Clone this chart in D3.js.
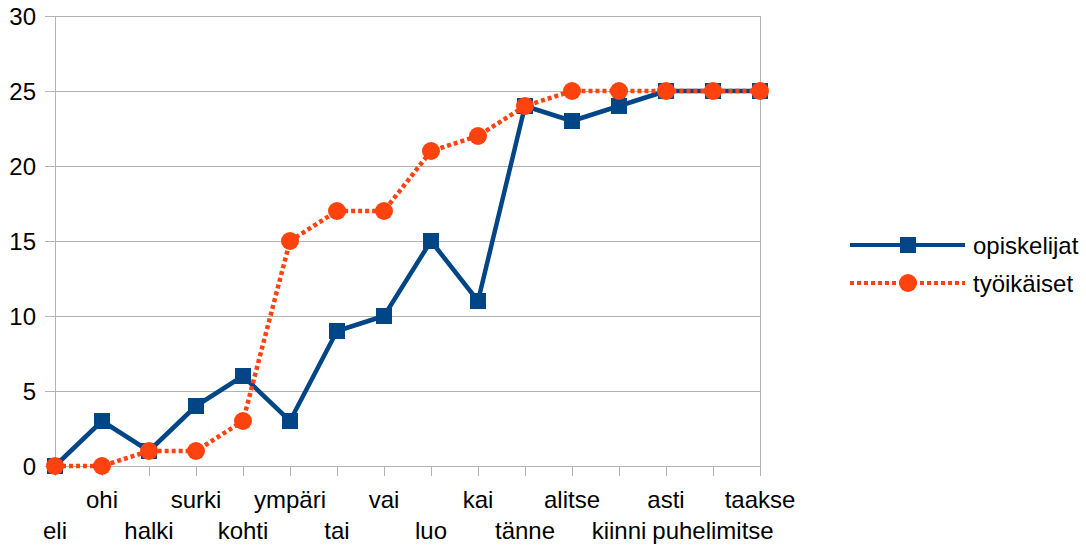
<!DOCTYPE html>
<html><head><meta charset="utf-8">
<script src="https://cdn.jsdelivr.net/npm/d3@7"></script>
<style>body{margin:0;background:#fff}svg{display:block}text{font-family:"Liberation Sans",Arial,sans-serif;fill:#000}</style>
</head><body>
<script>
const categories = ["eli","ohi","halki","surki","kohti","ympäri","tai","vai","luo","kai","tänne","alitse","kiinni","asti","puhelimitse","taakse"];
const opiskelijat = [0,3,1,4,6,3,9,10,15,11,24,23,24,25,25,25];
const tyoikaiset = [0,0,1,1,3,15,17,17,21,22,24,25,25,25,25,25];
const yTicks = [0,5,10,15,20,25,30];
const seriesNames = ["opiskelijat","työikäiset"];

const W=1086,H=546;
const m={l:55,r:326,t:16,b:80};
const svg=d3.select("body").append("svg").attr("width",W).attr("height",H);
const x=d3.scalePoint().domain(categories).range([m.l,W-m.r]);
const y=d3.scaleLinear().domain([0,30]).range([H-m.b,m.t]);
const grid="#b3b3b3";
const g=svg.append("g");
g.selectAll(".gl").data(yTicks).join("line").attr("x1",m.l-10).attr("x2",W-m.r)
 .attr("y1",d=>y(d)).attr("y2",d=>y(d)).attr("stroke",grid).attr("stroke-width",1).attr("shape-rendering","crispEdges");
g.append("line").attr("x1",m.l).attr("x2",m.l).attr("y1",m.t).attr("y2",H-m.b).attr("stroke",grid).attr("shape-rendering","crispEdges");
g.append("line").attr("x1",W-m.r).attr("x2",W-m.r).attr("y1",m.t).attr("y2",H-m.b).attr("stroke",grid).attr("shape-rendering","crispEdges");
g.selectAll(".xt").data(categories).join("line").attr("x1",d=>x(d)).attr("x2",d=>x(d))
 .attr("y1",H-m.b).attr("y2",H-m.b+10).attr("stroke",grid).attr("shape-rendering","crispEdges");
g.selectAll(".yl").data(yTicks).join("text").attr("x",36).attr("y",d=>y(d)).attr("dy","0.36em")
 .attr("text-anchor","end").attr("font-size",24).text(d=>d);
g.selectAll(".xl").data(categories).join("text").attr("x",d=>x(d))
 .attr("y",(d,i)=>i%2?508:539).attr("text-anchor","middle").attr("font-size",24).text(d=>d);

const line=d3.line().x((d,i)=>x(categories[i])).y(d=>y(d));
const blue="#004586",orange="#ff420e";
svg.append("path").datum(opiskelijat).attr("d",line).attr("fill","none").attr("stroke",blue).attr("stroke-width",4.5).attr("stroke-linejoin","round");
svg.selectAll(".sq").data(opiskelijat).join("rect").attr("x",(d,i)=>x(categories[i])-8).attr("y",d=>y(d)-8)
 .attr("width",16).attr("height",16).attr("fill",blue);
svg.append("path").datum(tyoikaiset).attr("d",line).attr("fill","none").attr("stroke",orange).attr("stroke-width",4.5).attr("stroke-dasharray","4,3");
svg.selectAll(".ci").data(tyoikaiset).join("circle").attr("cx",(d,i)=>x(categories[i])).attr("cy",d=>y(d)).attr("r",9).attr("fill",orange);

const lg=svg.append("g");
const ly=[245,283];
lg.append("line").attr("x1",850).attr("x2",965).attr("y1",ly[0]).attr("y2",ly[0]).attr("stroke",blue).attr("stroke-width",4);
lg.append("rect").attr("x",900).attr("y",ly[0]-8).attr("width",16).attr("height",16).attr("fill",blue);
lg.append("line").attr("x1",850).attr("x2",965).attr("y1",ly[1]).attr("y2",ly[1]).attr("stroke",orange).attr("stroke-width",4).attr("stroke-dasharray","4,3");
lg.append("circle").attr("cx",908).attr("cy",ly[1]).attr("r",9).attr("fill",orange);
lg.selectAll(".lt").data(seriesNames).join("text").attr("x",973).attr("y",(d,i)=>ly[i]).attr("dy","0.36em").attr("font-size",24).text(d=>d);
</script>
</body></html>
